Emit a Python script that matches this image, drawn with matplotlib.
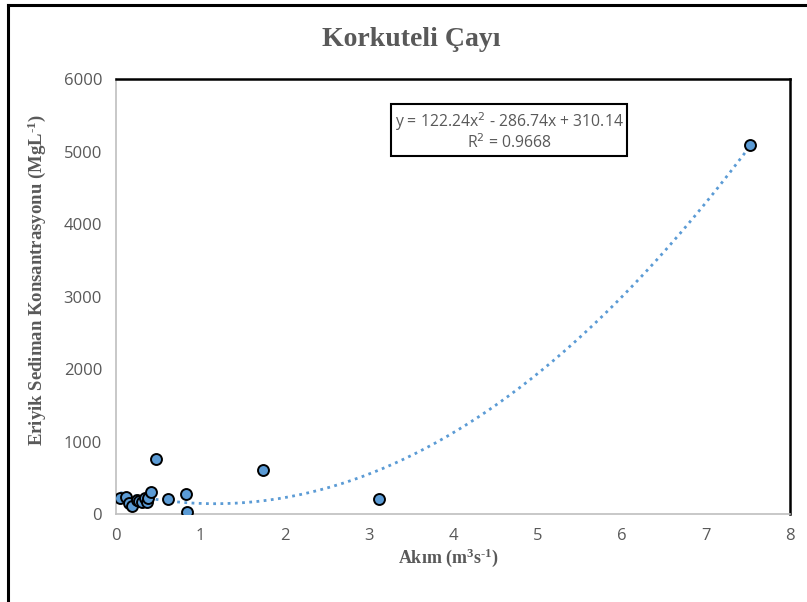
import matplotlib
matplotlib.use("Agg")
import matplotlib.pyplot as plt
import numpy as np
from matplotlib.lines import Line2D

# Data
akim = [0.05, 0.12, 0.15, 0.19, 0.25, 0.27, 0.31, 0.35, 0.37, 0.38, 0.42,
        0.47, 0.62, 0.83, 0.84, 1.74, 3.12, 7.52]
konsantrasyon = [215, 235, 150, 115, 200, 185, 170, 215, 160, 225, 300,
                 755, 210, 280, 30, 605, 205, 5085]
fit_coefs = [122.24, -286.74, 310.14]
x_ticks = [0, 1, 2, 3, 4, 5, 6, 7, 8]
y_ticks = [0, 1000, 2000, 3000, 4000, 5000, 6000]

title = "Korkuteli Çayı"
xlabel = r"Akım (m$^{3}$s$^{\text{-1}}$)"
ylabel = r"Eriyik Sediman Konsantrasyonu (MgL$^{\text{-1}}$)"
eq_text = "y = 122.24x$^{2}$ - 286.74x + 310.14\nR$^{2}$ = 0.9668"

blue = "#5B9BD5"
grey_text = "#595959"

plt.rcParams["mathtext.fontset"] = "custom"
plt.rcParams["mathtext.rm"] = "Liberation Serif:bold"
plt.rcParams["mathtext.it"] = "Liberation Serif:bold"
plt.rcParams["mathtext.bf"] = "Liberation Serif:bold"

fig = plt.figure(figsize=(8.07, 6.02), dpi=100)
W, H = 807, 602
ax = fig.add_axes([116 / W, 1 - 514 / H, (790 - 116) / W, (514 - 79) / H])

# trend line
xs = np.linspace(min(akim), max(akim), 300)
ys = np.polyval(fit_coefs, xs)
ax.plot(xs, ys, linestyle=(0, (1, 1.6)), color=blue, linewidth=2.0, zorder=2)

ax.scatter(akim, konsantrasyon, s=62, facecolor=blue, edgecolor="black",
           linewidth=1.4, zorder=3)

ax.set_xlim(0, 8)
ax.set_ylim(0, 6000)
ax.set_xticks(x_ticks)
ax.set_yticks(y_ticks)
ax.tick_params(length=0, labelsize=12, colors=grey_text)
ax.tick_params(axis="x", pad=10)
ax.tick_params(axis="y", pad=10)
for lab in ax.get_xticklabels() + ax.get_yticklabels():
    lab.set_fontfamily(["Open Sans", "DejaVu Sans"])

for side in ["left", "bottom"]:
    ax.spines[side].set_color("#BFBFBF")
    ax.spines[side].set_linewidth(1.2)
for side in ["top", "right"]:
    ax.spines[side].set_color("black")
    ax.spines[side].set_linewidth(1.8)

ax.set_xlabel(xlabel, fontfamily=["Liberation Serif", "DejaVu Serif"], fontweight="bold",
              fontsize=13, color=grey_text)
ax.xaxis.set_label_coords((448 - 116) / (790 - 116), -(558 - 514) / (514 - 79))
ax.xaxis.label.set_va("center")
ax.set_ylabel(ylabel, fontfamily=["Liberation Serif", "DejaVu Serif"], fontweight="bold",
              fontsize=13.5, color=grey_text)
ax.yaxis.set_label_coords(-(116 - 37) / (790 - 116), (514 - 280) / (514 - 79))
ax.yaxis.label.set_va("center")

fig.text(411 / W, 1 - 40 / H, title, ha="center", va="center",
         fontfamily="Liberation Serif", fontweight="bold", fontsize=20,
         color=grey_text)

fig.text(509 / W, 1 - 131 / H, eq_text, ha="center", va="center",
         fontfamily=["Open Sans", "DejaVu Sans"], fontsize=11.3, color=grey_text,
         linespacing=1.0, math_fontfamily="dejavusans",
         bbox=dict(boxstyle="square,pad=0.25", facecolor="white",
                   edgecolor="black", linewidth=1.5))

# outer chart border (top and left visible)
fig.add_artist(Line2D([8 / W, 8 / W], [0, 1 - 5 / H], transform=fig.transFigure,
                      color="black", linewidth=2.2))
fig.add_artist(Line2D([8 / W, 1], [1 - 5 / H, 1 - 5 / H], transform=fig.transFigure,
                      color="black", linewidth=2.2))

fig.savefig("out.png", dpi=100)
